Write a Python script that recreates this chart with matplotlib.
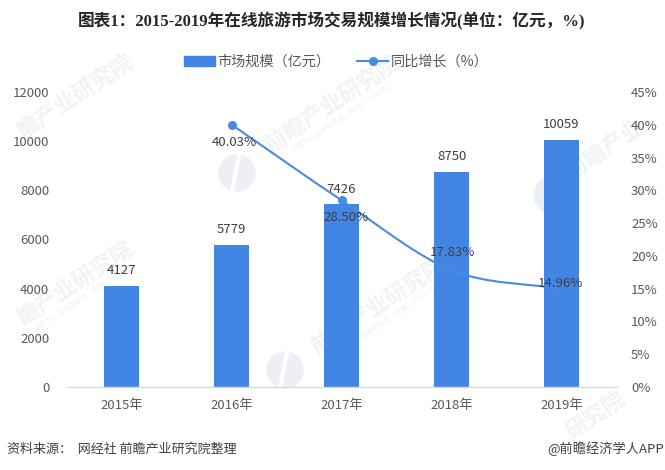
import numpy as np
import matplotlib
matplotlib.use("Agg")
import matplotlib.pyplot as plt
from matplotlib.path import Path
from matplotlib.patches import PathPatch, Rectangle, Circle
from matplotlib.lines import Line2D
from matplotlib.transforms import IdentityTransform

plt.rcParams['font.family'] = ['Noto Sans CJK SC', 'DejaVu Sans']

years = ["2015年", "2016年", "2017年", "2018年", "2019年"]
market = [4127, 5779, 7426, 8750, 10059]
growth_years = [1, 2, 3, 4]
growth = [40.03, 28.50, 17.83, 14.96]
growth_labels = ["40.03%", "28.50%", "17.83%", "14.96%"]
left_ticks = [0, 2000, 4000, 6000, 8000, 10000, 12000]
right_ticks = [0, 5, 10, 15, 20, 25, 30, 35, 40, 45]

BLUE = "#4285e3"
LINE = "#4a8ae0"
GREY = "#595959"
DARK = "#404040"
MARK = "#f1f2f6"

W, H = 665, 470
PX = 0.72  # points per pixel at dpi 100

# label shifts from the point, in pixels
label_shift = [(3, -18), (5, -17), (0.5, 18), (-1, 5)]

# watermark: text, centre x, centre y (pixels from top left)
marks = [("瞻产业研究院", 75, 96), ("瞻产业研究院", 75, 283), ("前瞻产业研究院", 332, 104),
         ("前瞻产业研究院", 378, 306), ("前瞻产业", 605, 150), ("研究院", 595, 415)]
subs = [(343, 117), (389, 319), (86, 296)]
logos = [(237, 173), (285, 370), (552, 195)]


def smooth_path(xs, ys):
    # bezier through the points, like the excel smooth line
    xs = np.array(xs, dtype=float)
    ys = np.array(ys, dtype=float)
    slopes = np.gradient(ys, xs)
    verts = [(xs[0], ys[0])]
    codes = [Path.MOVETO]
    for i in range(len(xs) - 1):
        dx = (xs[i + 1] - xs[i]) / 3
        verts += [(xs[i] + dx, ys[i] + slopes[i] * dx),
                  (xs[i + 1] - dx, ys[i + 1] - slopes[i + 1] * dx),
                  (xs[i + 1], ys[i + 1])]
        codes += [Path.CURVE4] * 3
    return Path(verts, codes)


fig = plt.figure(figsize=(W / 100, H / 100), dpi=100)
ax = fig.add_axes([66.5 / W, 1 - 387 / H, 550 / W, 295 / H])
ax2 = ax.twinx()

for txt, wx, wy in marks:
    fig.text(wx / W, 1 - wy / H, txt, fontsize=16, color=MARK, rotation=33.5,
             ha="center", va="center", fontweight="bold", zorder=-1)
for wx, wy in subs:
    fig.text(wx / W, 1 - wy / H, "中国产业咨询领导者（股票：839599）", fontsize=5, color=MARK,
             rotation=33.5, ha="center", va="center", zorder=-1)
for lx, ly in logos:
    fig.add_artist(Circle((lx, H - ly), 18, color="#edeff5", transform=IdentityTransform(), zorder=-1))
    fig.add_artist(Line2D([lx + 2, lx - 5], [H - ly + 18, H - ly - 18], color="white", lw=3,
                          transform=IdentityTransform(), zorder=-1))

ax.patch.set_alpha(0)
ax2.patch.set_alpha(0)
x = np.arange(len(years))
ax.bar(x, market, width=0.32, color=BLUE, zorder=2)
ax.set_xlim(-0.5, 4.5)
ax.set_ylim(0, 12000)
ax.set_xticks(x)
ax.set_xticklabels(years, fontsize=9.5, color=GREY)
ax.set_yticks(left_ticks)
ax.tick_params(axis="y", length=0, labelsize=9.5, labelcolor=GREY, pad=12.5)
ax.tick_params(axis="x", length=0, pad=9)
for s in ["top", "left", "right"]:
    ax.spines[s].set_visible(False)
ax.spines["bottom"].set_color("#d9d9d9")
ax.spines["bottom"].set_linewidth(1)

for xi, v in zip(x, market):
    ax.annotate(str(v), (xi, v), xytext=(0, 15 * PX), textcoords="offset points",
                ha="center", va="center", fontsize=9.5, color=DARK)

ax2.set_ylim(0, 45)
ax2.set_yticks(right_ticks)
ax2.set_yticklabels([f"{t}%" for t in right_ticks])
ax2.tick_params(axis="y", length=0, labelsize=9.5, labelcolor=GREY, pad=10.5)
for s in ax2.spines.values():
    s.set_visible(False)

ax2.add_patch(PathPatch(smooth_path(growth_years, growth), fc="none", ec=LINE, lw=1.5, zorder=3))
# only the first two markers show up in the source
ax2.plot(growth_years[:2], growth[:2], ls="none", marker="o", ms=5.5, color=LINE, zorder=4)
for xi, g, lab, (sx, sy) in zip(growth_years, growth, growth_labels, label_shift):
    ax2.annotate(lab, (xi, g), xytext=(sx * PX, sy * PX), textcoords="offset points",
                 ha="center", va="center", fontsize=9.5, color=DARK, zorder=5)

fig.text(332 / W, 1 - 21 / H, "图表1：2015-2019年在线旅游市场交易规模增长情况(单位：亿元，%)",
         ha="center", va="center", fontsize=12, fontweight="bold", color="#262626",
         family=["Liberation Serif", "Noto Sans CJK SC"])

handles = [Rectangle((0, 0), 1, 1, color=BLUE),
           Line2D([], [], color=LINE, lw=1.5, marker="o", ms=5.5)]
fig.legend(handles, ["市场规模（亿元）", "同比增长（%）"], loc="center",
           bbox_to_anchor=(336 / W, 1 - 62 / H), ncol=2, frameon=False, fontsize=10.2,
           labelcolor=GREY, handlelength=2.2, handletextpad=0.15, columnspacing=1.9)

fig.text(7 / W, 1 - 449 / H, "资料来源：  网经社 前瞻产业研究院整理", ha="left", va="center",
         fontsize=9.4, color=DARK)
fig.text(664 / W, 1 - 449 / H, "@前瞻经济学人APP", ha="right", va="center",
         fontsize=9.5, color=DARK)

fig.savefig("out.png", dpi=100)
